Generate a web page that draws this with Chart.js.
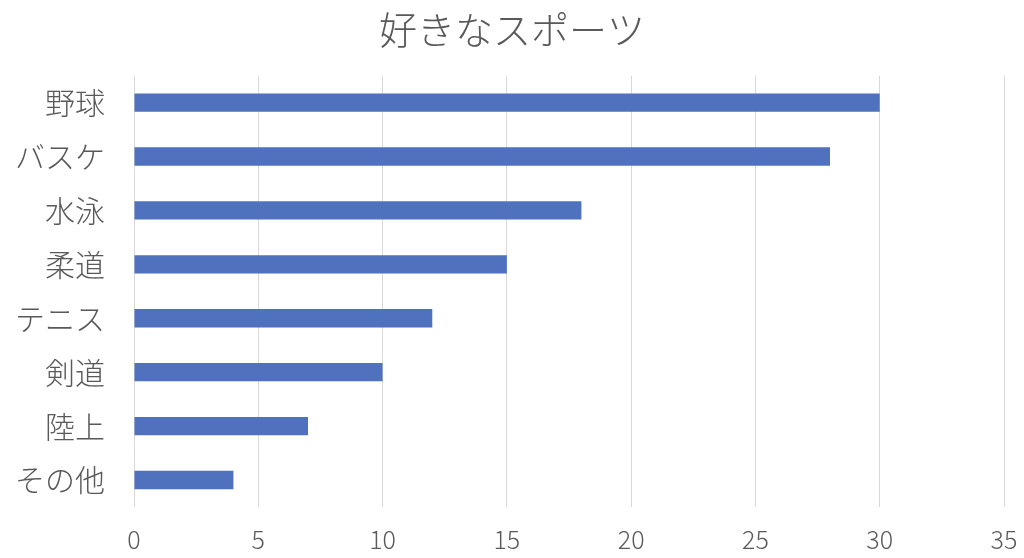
<!DOCTYPE html>
<html>
<head>
<meta charset="utf-8">
<script src="https://cdn.jsdelivr.net/npm/chart.js@4/dist/chart.umd.min.js"></script>
<style>
  html,body{margin:0;padding:0;background:#fff;}
  #wrap{width:1024px;height:558px;}
</style>
</head>
<body>
<div id="wrap"><canvas id="chart" width="1024" height="558"></canvas></div>
<script>
const categories = ['野球','バスケ','水泳','柔道','テニス','剣道','陸上','その他'];
const votes = [30, 28, 18, 15, 12, 10, 7, 4];
const xTicks = [0, 5, 10, 15, 20, 25, 30, 35];

const font = '"Noto Sans CJK JP", "Noto Sans", sans-serif';
const textColor = '#595959';

const ctx = document.getElementById('chart').getContext('2d');
new Chart(ctx, {
  type: 'bar',
  data: {
    labels: categories,
    datasets: [{
      label: '人数',
      data: votes,
      backgroundColor: '#4f71be',
      borderWidth: 0,
      categoryPercentage: 1,
      barPercentage: 0.34
    }]
  },
  options: {
    indexAxis: 'y',
    responsive: false,
    animation: false,
    layout: { padding: 0 },
    plugins: {
      legend: { display: false },
      tooltip: { enabled: false },
      title: {
        display: true,
        text: '好きなスポーツ',
        color: textColor,
        font: { family: font, size: 38, weight: '300', lineHeight: 1.2 },
        padding: { top: 7, bottom: 23 }
      }
    },
    scales: {
      x: {
        min: 0,
        max: 35,
        afterBuildTicks: s => { s.ticks = xTicks.map(v => ({ value: v })); },
        // keep the plot edge where the reference has it
        afterFit: s => { s.height = 51; s.paddingLeft = 0; s.paddingRight = 20; },
        grid: { color: '#d9d9d9', lineWidth: 1, drawTicks: false },
        border: { display: false },
        ticks: {
          color: textColor,
          padding: 17,
          font: { family: font, size: 25, weight: '300' }
        }
      },
      y: {
        afterFit: s => { s.width = 134; },
        grid: { display: false, drawTicks: false },
        border: { display: false },
        ticks: {
          color: textColor,
          padding: 29,
          font: { family: font, size: 30, weight: '300' }
        }
      }
    }
  }
});
</script>
</body>
</html>
